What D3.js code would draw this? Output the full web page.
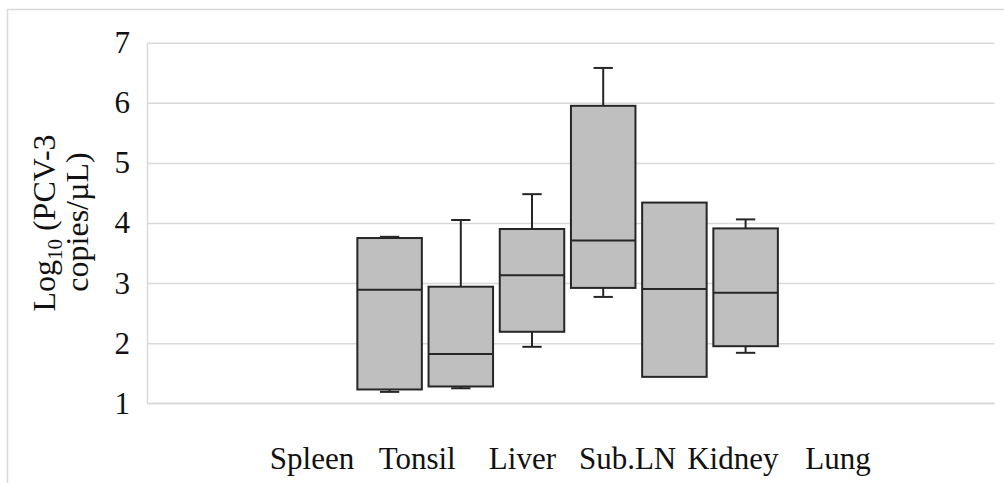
<!DOCTYPE html>
<html>
<head>
<meta charset="utf-8">
<script src="https://cdn.jsdelivr.net/npm/d3@7"></script>
<style>
  body { margin: 0; background: #fff; }
  svg { display: block; }
  text { font-family: "Liberation Serif", "Times New Roman", serif; fill: #111; }
</style>
</head>
<body>
<script>
// organs along the x axis, one box per organ
var organs = ["Spleen", "Tonsil", "Liver", "Sub.LN", "Kidney", "Lung"];

// box plot values, log10 copies/uL
var minV = [1.19, 1.25, 1.94, 2.77, 1.44, 1.84];
var q1V  = [1.23, 1.28, 2.19, 2.92, 1.44, 1.95];
var medV = [2.89, 1.82, 3.13, 3.71, 2.90, 2.84];
var q3V  = [3.75, 2.94, 3.90, 5.95, 4.34, 3.91];
var maxV = [3.77, 4.05, 4.48, 6.58, 4.34, 4.06];

var yTicks = [1, 2, 3, 4, 5, 6, 7];

var width = 1004,
    height = 483;

var svg = d3.select("body").append("svg")
    .attr("width", width)
    .attr("height", height);

// outer frame of the chart area
svg.append("rect")
    .attr("x", 7.5)
    .attr("y", 9.5)
    .attr("width", 1200)
    .attr("height", 800)
    .attr("fill", "none")
    .attr("stroke", "#d9d9d9")
    .attr("stroke-width", 1.5);

var plotLeft = 147, plotRight = 994.5;

var y = d3.scaleLinear()
    .domain([1, 7])
    .range([403.3, 42.7]);

// boxes sit in a band scale
var xBox = d3.scaleBand()
    .domain(organs)
    .range([354, 781.2])
    .paddingInner(0.094)
    .paddingOuter(0.047);

// category labels
var xLab = d3.scalePoint()
    .domain(organs)
    .range([312, 838]);

// grid + y axis
var yAxis = svg.append("g")
    .attr("transform", "translate(" + plotLeft + ",0)")
    .call(d3.axisLeft(y)
        .tickValues(yTicks)
        .tickFormat(d3.format("d"))
        .tickSizeInner(-(plotRight - plotLeft))
        .tickSizeOuter(0)
        .tickPadding(17));

yAxis.select(".domain")
    .attr("stroke", "#d9d9d9")
    .attr("stroke-width", 1.5);
yAxis.selectAll(".tick line")
    .attr("stroke", "#d9d9d9")
    .attr("stroke-width", 1.5);
yAxis.selectAll(".tick text")
    .style("font-family", "'Liberation Serif', 'Times New Roman', serif")
    .style("font-size", "31px")
    .attr("fill", "#111");

// bottom axis line
svg.append("line")
    .attr("x1", plotLeft)
    .attr("x2", plotRight)
    .attr("y1", y(1))
    .attr("y2", y(1))
    .attr("stroke", "#d9d9d9")
    .attr("stroke-width", 1.5);

// boxes
var boxes = organs.map(function(o, i) {
    return { organ: o, min: minV[i], q1: q1V[i], med: medV[i], q3: q3V[i], max: maxV[i] };
});

var bw = xBox.bandwidth();
var capW = bw * 0.3;

var g = svg.append("g")
    .selectAll("g")
    .data(boxes)
    .enter().append("g")
    .attr("transform", function(d) { return "translate(" + xBox(d.organ) + ",0)"; });

// whiskers (only where they stick out of the box)
var upper = g.filter(function(d) { return d.max > d.q3; });
var lower = g.filter(function(d) { return d.min < d.q1; });

upper.append("line")
    .attr("x1", bw / 2).attr("x2", bw / 2)
    .attr("y1", function(d) { return y(d.max); })
    .attr("y2", function(d) { return y(d.q3); })
    .attr("stroke", "#262626").attr("stroke-width", 2);
lower.append("line")
    .attr("x1", bw / 2).attr("x2", bw / 2)
    .attr("y1", function(d) { return y(d.q1); })
    .attr("y2", function(d) { return y(d.min); })
    .attr("stroke", "#262626").attr("stroke-width", 2);
upper.append("line")
    .attr("x1", (bw - capW) / 2).attr("x2", (bw + capW) / 2)
    .attr("y1", function(d) { return y(d.max); })
    .attr("y2", function(d) { return y(d.max); })
    .attr("stroke", "#262626").attr("stroke-width", 2);
lower.append("line")
    .attr("x1", (bw - capW) / 2).attr("x2", (bw + capW) / 2)
    .attr("y1", function(d) { return y(d.min); })
    .attr("y2", function(d) { return y(d.min); })
    .attr("stroke", "#262626").attr("stroke-width", 2);

g.append("rect")
    .attr("x", 0)
    .attr("width", bw)
    .attr("y", function(d) { return y(d.q3); })
    .attr("height", function(d) { return y(d.q1) - y(d.q3); })
    .attr("fill", "#bfbfbf")
    .attr("stroke", "#262626")
    .attr("stroke-width", 2);

g.append("line")
    .attr("x1", 0).attr("x2", bw)
    .attr("y1", function(d) { return y(d.med); })
    .attr("y2", function(d) { return y(d.med); })
    .attr("stroke", "#262626").attr("stroke-width", 2);

// category labels
svg.append("g")
    .selectAll("text")
    .data(organs)
    .enter().append("text")
    .attr("x", function(d) { return xLab(d); })
    .attr("y", 469)
    .attr("text-anchor", "middle")
    .style("font-size", "31px")
    .text(function(d) { return d; });

// y axis title, two lines
var title = svg.append("text")
    .attr("transform", "translate(55,223) rotate(-90)")
    .attr("text-anchor", "middle")
    .style("font-size", "32px");
title.append("tspan").text("Log");
title.append("tspan").attr("dy", 7).style("font-size", "21px").text("10");
title.append("tspan").attr("dy", -7).text(" (PCV-3");

svg.append("text")
    .attr("transform", "translate(88,222) rotate(-90)")
    .attr("text-anchor", "middle")
    .style("font-size", "32px")
    .text("copies/\u00b5L)");
</script>
</body>
</html>
